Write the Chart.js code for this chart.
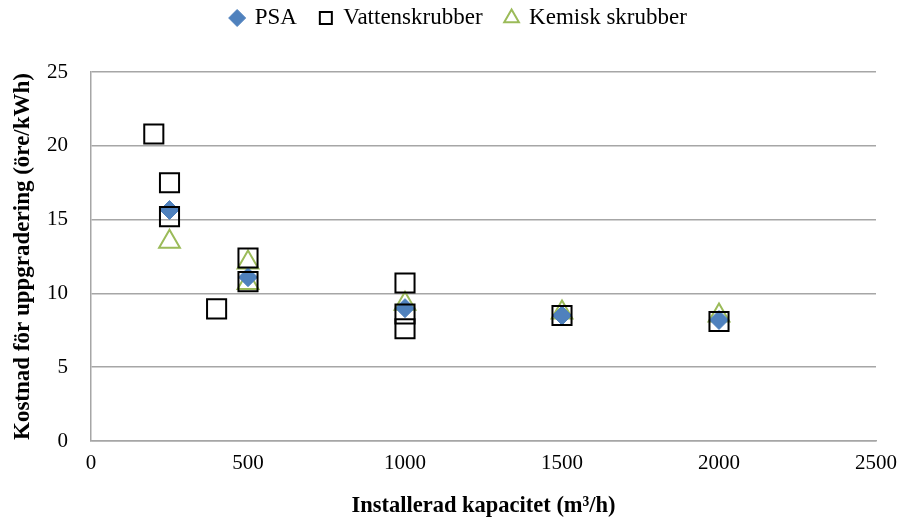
<!DOCTYPE html>
<html>
<head>
<meta charset="utf-8">
<script src="https://cdn.jsdelivr.net/npm/chart.js@4"></script>
<style>
  html, body { margin: 0; padding: 0; background: #fff; }
  #wrap { width: 907px; height: 524px; }
</style>
</head>
<body>
<div id="wrap"><canvas id="c"></canvas></div>
<script>
// Kostnad för uppgradering per kapacitet
const seriesNames = ['PSA', 'Vattenskrubber', 'Kemisk skrubber'];

const psaX = [250, 500, 1000, 1500, 2000];
const psaY = [15.65, 11.1, 9.0, 8.5, 8.2];

const vattenX = [200, 250, 250, 400, 500, 500, 1000, 1000, 1000, 1500, 2000];
const vattenY = [20.8, 17.5, 15.2, 8.95, 12.4, 10.8, 10.7, 8.6, 7.6, 8.5, 8.1];

const kemiskX = [250, 500, 500, 1000, 1500, 2000];
const kemiskY = [13.5, 12.1, 10.7, 9.3, 8.7, 8.5];

const xTicks = [0, 500, 1000, 1500, 2000, 2500];
const yTicks = [0, 5, 10, 15, 20, 25];

const toPoints = (xs, ys) => xs.map((x, i) => ({ x: x, y: ys[i] }));

const serif = '"Liberation Serif", "DejaVu Serif", serif';
const gridColor = '#a6a6a6';

new Chart(document.getElementById('c'), {
  type: 'scatter',
  data: {
    datasets: [
      {
        label: seriesNames[0],
        data: toPoints(psaX, psaY),
        pointStyle: 'rectRot',
        pointRadius: 9.5,
        pointHoverRadius: 9.5,
        backgroundColor: '#4f81bd',
        borderColor: '#4f81bd',
        borderWidth: 1,
        order: 1
      },
      {
        label: seriesNames[1],
        data: toPoints(vattenX, vattenY),
        pointStyle: 'rect',
        pointRadius: 13.5,
        pointHoverRadius: 13.5,
        backgroundColor: 'rgba(0,0,0,0)',
        borderColor: '#000000',
        borderWidth: 2,
        order: 0
      },
      {
        label: seriesNames[2],
        data: toPoints(kemiskX, kemiskY),
        pointStyle: 'triangle',
        pointRadius: 12,
        pointHoverRadius: 12,
        backgroundColor: 'rgba(255,255,255,0)',
        borderColor: '#9bbb59',
        borderWidth: 2,
        order: 2
      }
    ]
  },
  options: {
    responsive: true,
    maintainAspectRatio: false,
    animation: false,
    // legend centred a bit right of the plot, like the original
    layout: { padding: { top: -16.5, right: 26, left: 37, bottom: 0 } },
    plugins: {
      tooltip: { enabled: false },
      legend: {
        position: 'top',
        labels: {
          usePointStyle: true,
          boxWidth: 12,
          boxHeight: 12,
          padding: 23,
          color: '#000',
          font: { family: serif, size: 23 },
          sort: (a, b) => a.datasetIndex - b.datasetIndex
        }
      }
    },
    scales: {
      // empty spacer between legend and plot area
      xTop: {
        type: 'linear',
        axis: 'x',
        position: 'top',
        display: true,
        min: 0,
        max: 2500,
        grid: { display: false, drawTicks: false },
        border: { display: false },
        ticks: { display: false },
        afterFit: (axis) => { axis.height = 32.5; }
      },
      x: {
        type: 'linear',
        min: 0,
        max: 2500,
        afterBuildTicks: (axis) => { axis.ticks = xTicks.map(v => ({ value: v })); },
        afterFit: (axis) => { axis.height = 83; },
        grid: { display: false, drawTicks: false },
        border: { display: true, color: gridColor, width: 1.5 },
        ticks: {
          color: '#000',
          padding: 10,
          font: { family: serif, size: 21 },
          callback: (v) => String(v)
        },
        title: {
          display: true,
          text: 'Installerad kapacitet (m³/h)',
          color: '#000',
          padding: { top: 0, bottom: 4 },
          font: { family: serif, size: 22.5, weight: 'bold' }
        }
      },
      y: {
        min: 0,
        max: 25,
        afterBuildTicks: (axis) => { axis.ticks = yTicks.map(v => ({ value: v })); },
        afterFit: (axis) => { axis.width = 54; },
        grid: { color: gridColor, lineWidth: 1.5, drawTicks: false },
        border: { display: true, color: gridColor, width: 1.5 },
        ticks: { color: '#000', padding: 23, font: { family: serif, size: 21 } },
        title: {
          display: true,
          text: 'Kostnad för uppgradering (öre/kWh)',
          color: '#000',
          padding: { top: -28, bottom: 0 },
          font: { family: serif, size: 23, weight: 'bold' }
        }
      }
    }
  }
});
</script>
</body>
</html>
